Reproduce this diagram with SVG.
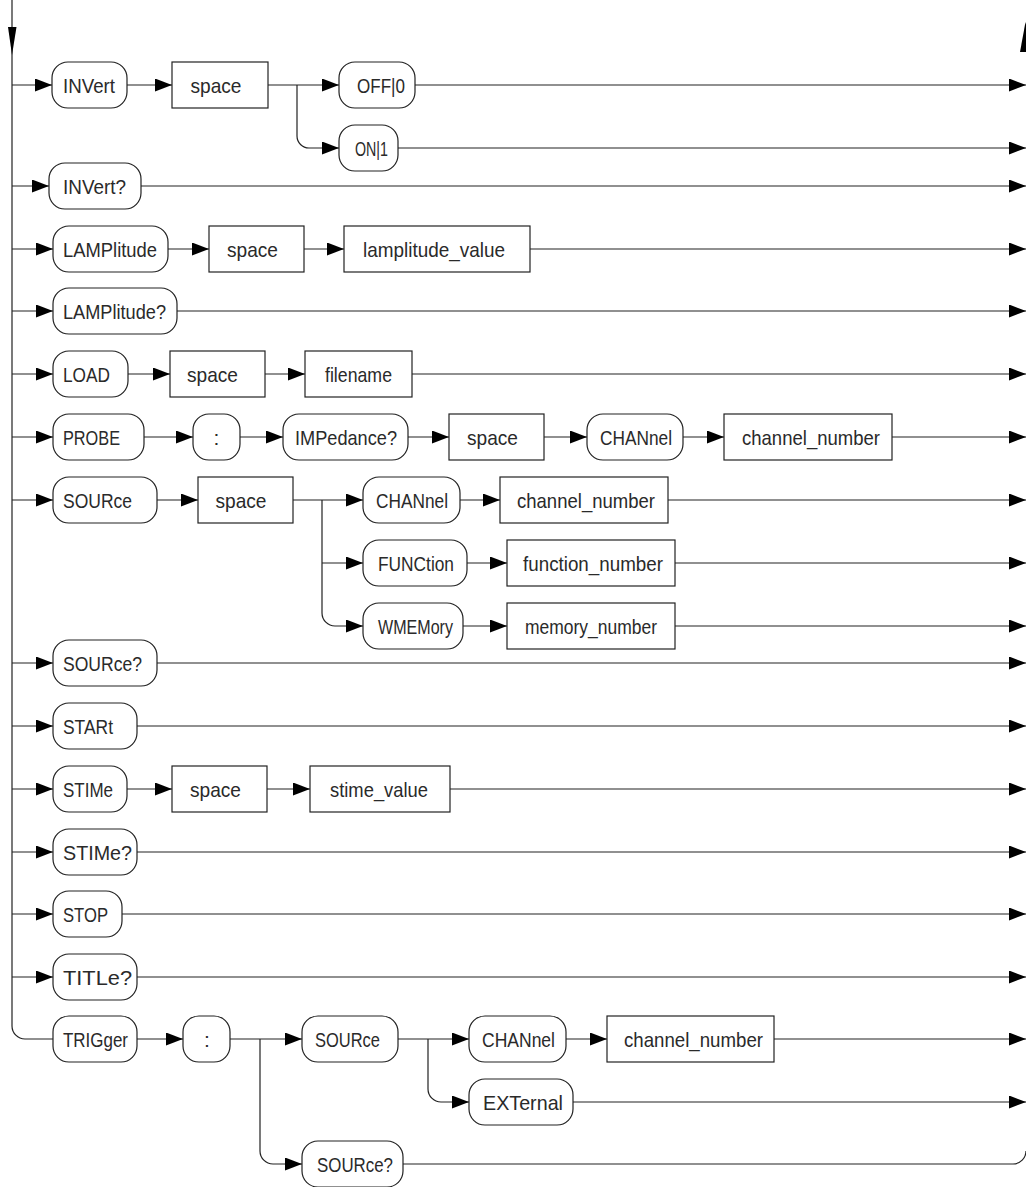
<svg xmlns="http://www.w3.org/2000/svg" width="1026" height="1187" viewBox="0 0 1026 1187">
<style>
rect{fill:#fff;stroke:#222;stroke-width:1.2}
rect.p{rx:16px;ry:16px}
text{font-family:"Liberation Sans",Arial,sans-serif;font-size:21px;fill:#2a2a2a;text-anchor:middle}
#connectors path{fill:none;stroke:#222;stroke-width:1.2;marker-end:url(#ah)}
#connectors path.na{marker-end:none}
</style>
<defs>
<marker id="ah" markerUnits="userSpaceOnUse" markerWidth="18" markerHeight="14" refX="17" refY="6.5" orient="auto">
<path d="M0,0 L17,6.5 L0,13 z" fill="#000"/>
</marker>
</defs>
<rect x="0" y="0" width="1026" height="1187" style="fill:#fff;stroke:none"/>
<g id="connectors">
<path class="na" d="M12,0 V1026 A13,13 0 0 0 25,1039 H53"/>
<path d="M12,85 H52"/>
<path d="M127,85 H172"/>
<path d="M268,85 H339"/>
<path d="M297,85 V136 A12,12 0 0 0 309,148 H339"/>
<path d="M415,85 H1026"/>
<path d="M398,148 H1026"/>
<path d="M12,186 H49"/>
<path d="M141,186 H1026"/>
<path d="M12,249 H53"/>
<path d="M168,249 H209"/>
<path d="M304,249 H344"/>
<path d="M530,249 H1026"/>
<path d="M12,311 H53"/>
<path d="M177,311 H1026"/>
<path d="M12,374 H53"/>
<path d="M128,374 H170"/>
<path d="M265,374 H305"/>
<path d="M412,374 H1026"/>
<path d="M12,437 H53"/>
<path d="M144,437 H193"/>
<path d="M240,437 H283"/>
<path d="M408,437 H449"/>
<path d="M544,437 H587"/>
<path d="M683,437 H724"/>
<path d="M892,437 H1026"/>
<path d="M12,500 H53"/>
<path d="M157,500 H198"/>
<path d="M293,500 H363"/>
<path d="M322,500 V613 A13,13 0 0 0 335,626 H363"/>
<path d="M322,563 H363"/>
<path d="M460,500 H500"/>
<path d="M668,500 H1026"/>
<path d="M467,563 H507"/>
<path d="M675,563 H1026"/>
<path d="M463,626 H507"/>
<path d="M675,626 H1026"/>
<path d="M12,663 H53"/>
<path d="M157,663 H1026"/>
<path d="M12,726 H53"/>
<path d="M137,726 H1026"/>
<path d="M12,789 H53"/>
<path d="M127,789 H172"/>
<path d="M267,789 H310"/>
<path d="M450,789 H1026"/>
<path d="M12,852 H53"/>
<path d="M137,852 H1026"/>
<path d="M12,914 H53"/>
<path d="M122,914 H1026"/>
<path d="M12,977 H53"/>
<path d="M137,977 H1026"/>
<path d="M137,1039 H183"/>
<path d="M230,1039 H302"/>
<path d="M260,1039 V1151 A13,13 0 0 0 273,1164 H302"/>
<path d="M398,1039 H469"/>
<path d="M428,1039 V1089 A13,13 0 0 0 441,1102 H469"/>
<path d="M566,1039 H607"/>
<path d="M774,1039 H1026"/>
<path d="M573,1102 H1026"/>
<path class="na" d="M403,1164 H1013 A13,13 0 0 0 1026,1151"/>
<polygon points="8,27 16.5,27 12,55" fill="#000"/>
<polygon points="1020,52 1025.5,22 1031,52" fill="#000"/>
</g>
<g id="n-invert"><rect class="p" x="52" y="62" width="75" height="46"/><text x="89" y="93" textLength="52" lengthAdjust="spacingAndGlyphs">INVert</text></g>
<g id="n-space1"><rect x="172" y="62" width="96" height="46"/><text x="216" y="93" textLength="51" lengthAdjust="spacingAndGlyphs">space</text></g>
<g id="n-off"><rect class="p" x="339" y="62" width="76" height="46"/><text x="381" y="93" textLength="48" lengthAdjust="spacingAndGlyphs">OFF|0</text></g>
<g id="n-on"><rect class="p" x="339" y="125" width="59" height="46"/><text x="371.5" y="156" textLength="33" lengthAdjust="spacingAndGlyphs">ON|1</text></g>
<g id="n-invertq"><rect class="p" x="49" y="163" width="92" height="46"/><text x="94.5" y="194" textLength="63" lengthAdjust="spacingAndGlyphs">INVert?</text></g>
<g id="n-lamp"><rect class="p" x="53" y="226" width="115" height="46"/><text x="110" y="257" textLength="94" lengthAdjust="spacingAndGlyphs">LAMPlitude</text></g>
<g id="n-space2"><rect x="209" y="226" width="95" height="46"/><text x="252.5" y="257" textLength="51" lengthAdjust="spacingAndGlyphs">space</text></g>
<g id="n-lampval"><rect x="344" y="226" width="186" height="46"/><text x="434" y="257" textLength="142" lengthAdjust="spacingAndGlyphs">lamplitude_value</text></g>
<g id="n-lampq"><rect class="p" x="53" y="288" width="124" height="46"/><text x="114.5" y="319" textLength="103" lengthAdjust="spacingAndGlyphs">LAMPlitude?</text></g>
<g id="n-load"><rect class="p" x="53" y="351" width="75" height="46"/><text x="86.5" y="382" textLength="47" lengthAdjust="spacingAndGlyphs">LOAD</text></g>
<g id="n-space3"><rect x="170" y="351" width="95" height="46"/><text x="212.5" y="382" textLength="51" lengthAdjust="spacingAndGlyphs">space</text></g>
<g id="n-filename"><rect x="305" y="351" width="107" height="46"/><text x="358.5" y="382" textLength="67" lengthAdjust="spacingAndGlyphs">filename</text></g>
<g id="n-probe"><rect class="p" x="53" y="414" width="91" height="46"/><text x="91.5" y="445" textLength="57" lengthAdjust="spacingAndGlyphs">PROBE</text></g>
<g id="n-colon1"><rect class="p" x="193" y="414" width="47" height="46"/><text x="216.5" y="445">:</text></g>
<g id="n-imped"><rect class="p" x="283" y="414" width="125" height="46"/><text x="346" y="445" textLength="102" lengthAdjust="spacingAndGlyphs">IMPedance?</text></g>
<g id="n-space4"><rect x="449" y="414" width="95" height="46"/><text x="492.5" y="445" textLength="51" lengthAdjust="spacingAndGlyphs">space</text></g>
<g id="n-chan1"><rect class="p" x="587" y="414" width="96" height="46"/><text x="636" y="445" textLength="72" lengthAdjust="spacingAndGlyphs">CHANnel</text></g>
<g id="n-chnum1"><rect x="724" y="414" width="168" height="46"/><text x="811" y="445" textLength="138" lengthAdjust="spacingAndGlyphs">channel_number</text></g>
<g id="n-source"><rect class="p" x="53" y="477" width="104" height="46"/><text x="97.5" y="508" textLength="69" lengthAdjust="spacingAndGlyphs">SOURce</text></g>
<g id="n-space5"><rect x="198" y="477" width="95" height="46"/><text x="241" y="508" textLength="51" lengthAdjust="spacingAndGlyphs">space</text></g>
<g id="n-chan2"><rect class="p" x="363" y="477" width="97" height="46"/><text x="412" y="508" textLength="72" lengthAdjust="spacingAndGlyphs">CHANnel</text></g>
<g id="n-chnum2"><rect x="500" y="477" width="168" height="46"/><text x="586" y="508" textLength="138" lengthAdjust="spacingAndGlyphs">channel_number</text></g>
<g id="n-func"><rect class="p" x="363" y="540" width="104" height="46"/><text x="416" y="571" textLength="76" lengthAdjust="spacingAndGlyphs">FUNCtion</text></g>
<g id="n-funcnum"><rect x="507" y="540" width="168" height="46"/><text x="593" y="571" textLength="140" lengthAdjust="spacingAndGlyphs">function_number</text></g>
<g id="n-wmem"><rect class="p" x="363" y="603" width="100" height="46"/><text x="415.5" y="634" textLength="75" lengthAdjust="spacingAndGlyphs">WMEMory</text></g>
<g id="n-memnum"><rect x="507" y="603" width="168" height="46"/><text x="591" y="634" textLength="132" lengthAdjust="spacingAndGlyphs">memory_number</text></g>
<g id="n-sourceq"><rect class="p" x="53" y="640" width="104" height="46"/><text x="102.5" y="671" textLength="79" lengthAdjust="spacingAndGlyphs">SOURce?</text></g>
<g id="n-start"><rect class="p" x="53" y="703" width="84" height="46"/><text x="88" y="734" textLength="50" lengthAdjust="spacingAndGlyphs">STARt</text></g>
<g id="n-stime"><rect class="p" x="53" y="766" width="74" height="46"/><text x="88" y="797" textLength="50" lengthAdjust="spacingAndGlyphs">STIMe</text></g>
<g id="n-space6"><rect x="172" y="766" width="95" height="46"/><text x="215.5" y="797" textLength="51" lengthAdjust="spacingAndGlyphs">space</text></g>
<g id="n-stimeval"><rect x="310" y="766" width="140" height="46"/><text x="379" y="797" textLength="98" lengthAdjust="spacingAndGlyphs">stime_value</text></g>
<g id="n-stimeq"><rect class="p" x="53" y="829" width="84" height="46"/><text x="97.5" y="860" textLength="69" lengthAdjust="spacingAndGlyphs">STIMe?</text></g>
<g id="n-stop"><rect class="p" x="53" y="891" width="69" height="46"/><text x="85.5" y="922" textLength="45" lengthAdjust="spacingAndGlyphs">STOP</text></g>
<g id="n-titleq"><rect class="p" x="53" y="954" width="84" height="46"/><text x="97.5" y="985" textLength="69" lengthAdjust="spacingAndGlyphs">TITLe?</text></g>
<g id="n-trigger"><rect class="p" x="53" y="1016" width="84" height="46"/><text x="95.5" y="1047" textLength="65" lengthAdjust="spacingAndGlyphs">TRIGger</text></g>
<g id="n-colon2"><rect class="p" x="183" y="1016" width="47" height="46"/><text x="207" y="1047">:</text></g>
<g id="n-tsource"><rect class="p" x="302" y="1016" width="96" height="46"/><text x="347.5" y="1047" textLength="65" lengthAdjust="spacingAndGlyphs">SOURce</text></g>
<g id="n-tchan"><rect class="p" x="469" y="1016" width="97" height="46"/><text x="518.5" y="1047" textLength="73" lengthAdjust="spacingAndGlyphs">CHANnel</text></g>
<g id="n-tchnum"><rect x="607" y="1016" width="167" height="46"/><text x="693.5" y="1047" textLength="139" lengthAdjust="spacingAndGlyphs">channel_number</text></g>
<g id="n-text"><rect class="p" x="469" y="1079" width="104" height="46"/><text x="523" y="1110" textLength="80" lengthAdjust="spacingAndGlyphs">EXTernal</text></g>
<g id="n-tsourceq"><rect class="p" x="302" y="1141" width="101" height="46"/><text x="355" y="1172" textLength="76" lengthAdjust="spacingAndGlyphs">SOURce?</text></g>
</svg>
